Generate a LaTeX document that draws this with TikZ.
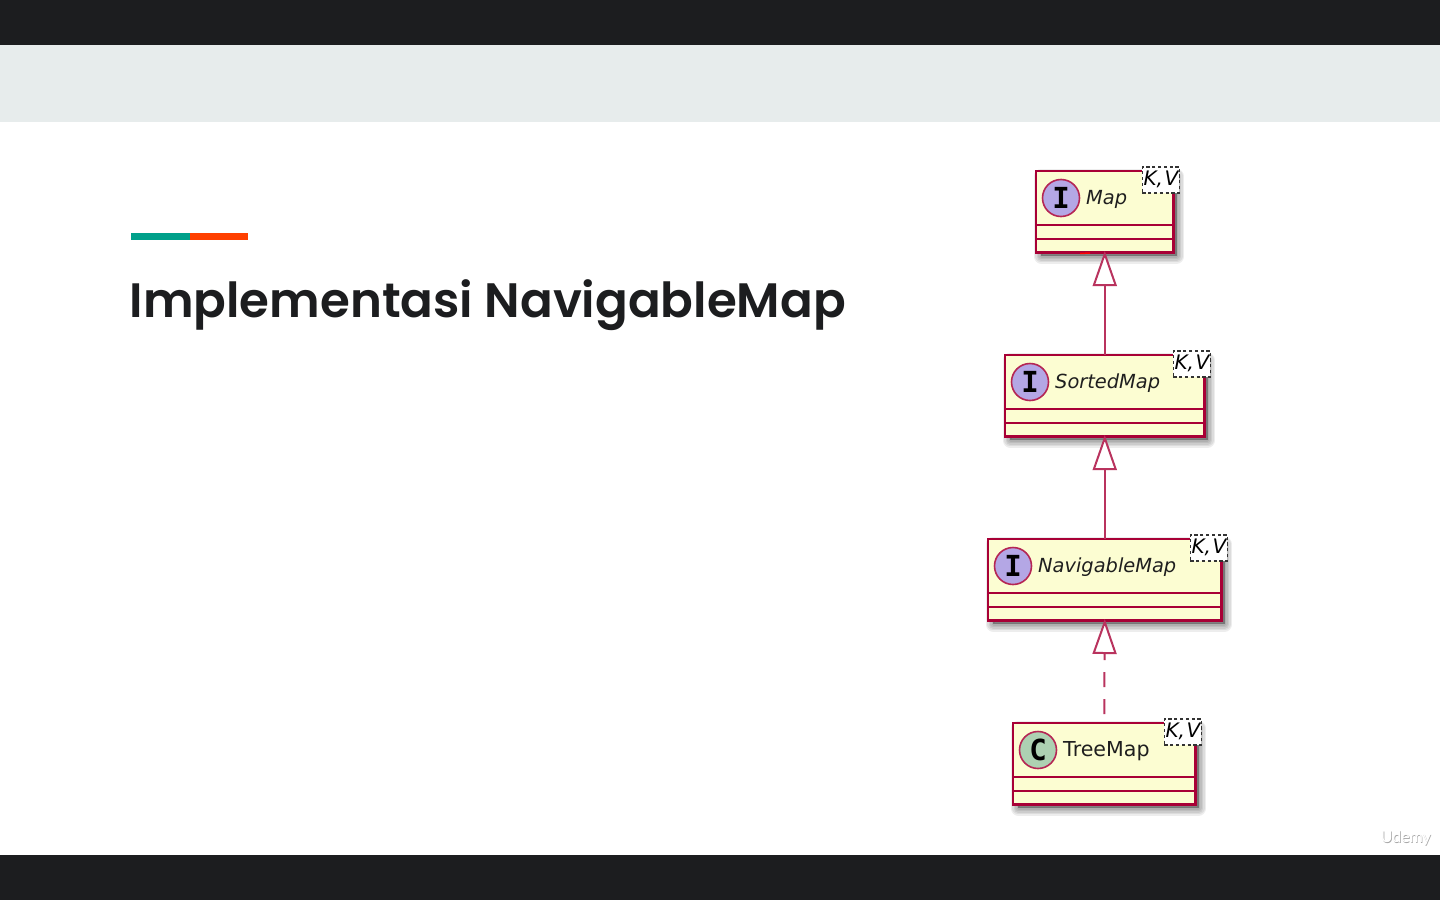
\documentclass[tikz,border=0pt]{standalone}
\usepackage{fontspec}
\usetikzlibrary{arrows.meta}
\setmainfont{DejaVu Sans}
\newfontfamily\titlefont{Poppins SemiBold}
\newfontfamily\wmfont{Lato}
\newfontfamily\markfont{DejaVu Sans Mono}
\definecolor{barblack}{HTML}{1C1D1F}
\definecolor{bandgrey}{HTML}{E7ECEC}
\definecolor{teal}{HTML}{00A08A}
\definecolor{orangered}{HTML}{FF4000}
\definecolor{umlred}{HTML}{A80036}
\definecolor{umlcream}{HTML}{FCFDD2}
\definecolor{ifacecol}{HTML}{B4A7E5}
\definecolor{classcol}{HTML}{ADD1B2}
\tikzset{
  x=1pt,y=-1pt,
  umlbox/.style={draw=umlred,fill=umlcream,line width=2.9pt,minimum height=81.5pt,inner sep=0pt,outer sep=0pt,anchor=north west},
  shadowlayer/.style={fill=black,draw=black,fill opacity=.07,draw opacity=.07,line join=round},
  compart/.style={draw=umlred,line width=2pt},
  badge/.style={circle,draw=umlred!85!white,line width=1.6pt,minimum size=37pt,inner sep=0pt,text=black,font=\markfont\bfseries\fontsize{29}{29}\selectfont},
  ifacename/.style={anchor=base west,inner sep=0pt,text=black!88,font=\itshape\fontsize{19.4}{22}\selectfont},
  classname/.style={anchor=base west,inner sep=0pt,text=black!88,font=\fontsize{20.6}{22}\selectfont},
  generic/.style={draw=black!80,fill=white,dash pattern=on 3.2pt off 2.6pt,line width=1.7pt,minimum width=37pt,minimum height=26pt,inner sep=0pt,anchor=north west,font=\itshape\fontsize{20}{22}\selectfont},
  inherit/.style={draw=umlred!80!white,line width=2pt,shorten >=-1.5pt,-{Triangle[open,length=35pt,width=24pt,fill=white]}},
  realize/.style={inherit,dash pattern=on 15pt off 12pt},
}
\newcommand{\umlclass}[8]{%
  % #1 name, #2 left, #3 top, #4 width, #5 badge colour, #6 letter, #7 name style, #8 label
  \foreach \lw in {15,12,9,6,3}{\path[shadowlayer,line width=\lw pt] (#2+5,#3+5) rectangle +(#4-2,80);}
  \node[umlbox,minimum width=#4pt] (#1) at (#2,#3) {};
  \draw[compart] ([yshift=-54pt]#1.north west) -- ([yshift=-54pt]#1.north east);
  \draw[compart] ([yshift=-68pt]#1.north west) -- ([yshift=-68pt]#1.north east);
  \node[badge,fill=#5] (#1badge) at (#2+25,#3+27) {#6};
  \node[#7] (#1label) at (#2+50,#3+33.5) {#8};
  \node[generic] (#1generic) at (#2+#4-32,#3-5) {K,\kern1.5pt V};
}
\begin{document}
\begin{tikzpicture}
\useasboundingbox (0,0) rectangle (1440,900);
\fill[white] (0,0) rectangle (1440,900);
\fill[barblack] (0,0) rectangle (1440,45);
\fill[bandgrey] (0,45) rectangle (1440,122);
\fill[barblack] (0,855) rectangle (1440,900);
\fill[teal] (131,233) rectangle (190,240);
\fill[orangered] (190,233) rectangle (248,240);
\node[anchor=base west,inner sep=0pt,text=barblack,font=\titlefont\fontsize{48.3}{60}\selectfont] (title) at (129.5,317) {Implementasi NavigableMap};

\umlclass{map}{1036}{171}{137.5}{ifacecol}{I}{ifacename}{Map}
\umlclass{sorted}{1005}{355}{199.5}{ifacecol}{I}{ifacename}{SortedMap}
\umlclass{navigable}{988}{539}{233.5}{ifacecol}{I}{ifacename}{NavigableMap}
\umlclass{tree}{1013}{723}{182.5}{classcol}{C}{classname}{TreeMap}

\draw[inherit] (sorted.north) -- (map.south);
\draw[inherit] (navigable.north) -- (sorted.south);
\draw[realize] ([yshift=9pt]tree.north) -- (navigable.south);
\draw[red,line width=1.5pt] (1080,253.5) -- (1090,253);

\node[text=black!35,font=\wmfont\fontsize{16}{16}\selectfont,inner sep=0pt] (wmshadow) at (1406.6,838.6) {Udemy};
\node[text=white,font=\wmfont\fontsize{16}{16}\selectfont,inner sep=0pt] (wm) at (1406,838) {Udemy};
\end{tikzpicture}
\end{document}
